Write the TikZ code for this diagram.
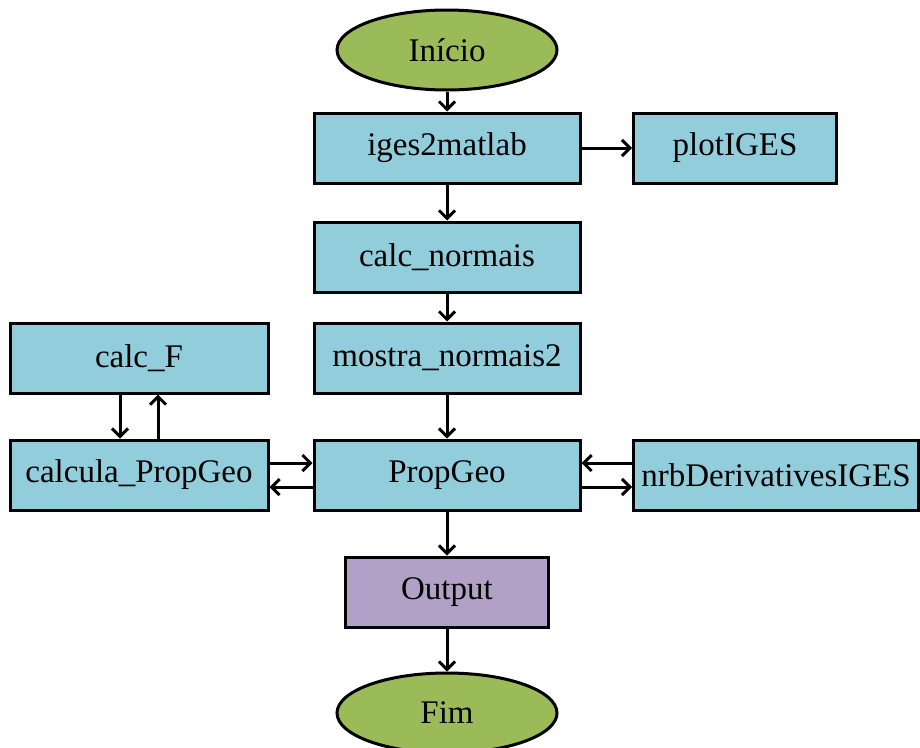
\documentclass[tikz,border=0pt]{standalone}
\usepackage{fontspec}
\setmainfont{Liberation Serif}
\usetikzlibrary{shapes.geometric,arrows.meta}

\definecolor{boxblue}{RGB}{146,205,220}
\definecolor{termgreen}{RGB}{155,187,89}
\definecolor{outpurple}{RGB}{178,161,199}

\tikzset{
    procbox/.style={draw, line width=3pt, fill=boxblue, rectangle,
        minimum height=70pt, inner sep=0pt,
        font=\fontsize{33}{38}\selectfont},
    termbox/.style={draw, line width=3pt, fill=termgreen, ellipse,
        minimum width=220pt, minimum height=80pt, inner sep=0pt,
        font=\fontsize{33}{38}\selectfont},
    flow/.style={line width=3pt, -{Straight Barb[length=8pt,width=16pt]}}
}

\begin{document}
\begin{tikzpicture}[x=1pt, y=-1pt]
                        \useasboundingbox (0,0) rectangle (920,747);

                        \node[termbox] (inicio) at (447, 50) {Início};
                        \node[procbox, minimum width=266pt] (iges) at (447, 148) {iges2matlab};
                        \node[procbox, minimum width=203pt] (plot) at (735, 148) {plotIGES};
                        \node[procbox, minimum width=266pt] (normais) at (447, 257) {calc\_normais};
                        \node[procbox, minimum width=266pt] (mostra) at (447, 358) {mostra\_normais2};
                        \node[procbox, minimum width=258pt] (calcF) at (139, 358) {calc\_F};
                        \node[procbox, minimum width=258pt] (calcula) at (139, 475) {calcula\_PropGeo};
                        \node[procbox, minimum width=266pt] (propgeo) at (447, 475) {PropGeo};
                        \node[procbox, minimum width=285pt] (nrb) at (776, 475) {nrbDerivativesIGES};
                        \node[procbox, minimum width=203pt, fill=outpurple] (output) at (447, 592) {Output};
                        \node[termbox] (fim) at (447, 713) {Fim};

                        \foreach \u/\v in {%
                            inicio/iges,
                            iges/plot,
                            iges/normais,
                            normais/mostra,
                            mostra/propgeo,
                            propgeo/output,
                            output/fim%
                            }{
                            \draw (\u) edge[flow] (\v);
                        }

                        % calc_F <-> calcula_PropGeo
                        \draw[flow] ([xshift=-19pt]calcF.south) -- ([xshift=-19pt]calcula.north);
                        \draw[flow] ([xshift=19pt]calcula.north) -- ([xshift=19pt]calcF.south);

                        % PropGeo <-> vizinhos
                        \draw[flow] ([yshift=12pt]calcula.east) -- ([yshift=12pt]propgeo.west);
                        \draw[flow] ([yshift=-12pt]propgeo.west) -- ([yshift=-12pt]calcula.east);
                        \draw[flow] ([yshift=12pt]nrb.west) -- ([yshift=12pt]propgeo.east);
                        \draw[flow] ([yshift=-12pt]propgeo.east) -- ([yshift=-12pt]nrb.west);

                    \end{tikzpicture}
\end{document}
